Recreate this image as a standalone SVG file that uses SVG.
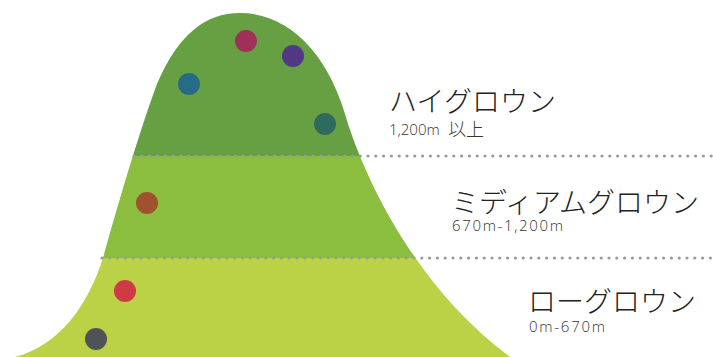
<svg xmlns="http://www.w3.org/2000/svg" width="713" height="357" viewBox="0 0 713 357">
<style>
.big{font-family:"Noto Sans CJK JP","Noto Sans",sans-serif;font-size:28px;font-weight:300;fill:#222}
.small{font-family:"Open Sans","Noto Sans","Noto Sans CJK JP",sans-serif;font-size:15px;font-weight:300;fill:#333}
.cjk{font-family:"Noto Sans CJK JP",sans-serif;font-size:18px;font-weight:300;fill:#333}
.dots{stroke:#9a9a9a;stroke-width:3.2;stroke-linecap:round;stroke-dasharray:0 7.8;fill:none}
</style>
<defs>
<clipPath id="mt">
<path d="M 15 357 C 60 345 88 305 103 258 C 115 215 138 135 157 84 C 178 35 205 13 240 13 C 290 13 330 55 348 124 C 370 190 420 290 510 357 Z"/>
</clipPath>
</defs>
<g id="mountain" clip-path="url(#mt)">
<rect x="0" y="0" width="713" height="156" fill="#66a042"/>
<rect x="0" y="156" width="713" height="102" fill="#8bbd3e"/>
<rect x="0" y="258" width="713" height="99" fill="#bbd246"/>
</g>
<g id="connectors">
<line class="dots" x1="134" y1="156" x2="713" y2="156"/>
<line class="dots" x1="102" y1="258" x2="713" y2="258"/>
</g>
<g id="dots">
<circle cx="246" cy="41" r="11" fill="#9e3059"/>
<circle cx="293" cy="56" r="11" fill="#513883"/>
<circle cx="189" cy="84" r="11" fill="#276b85"/>
<circle cx="325" cy="124" r="11" fill="#2f6a5e"/>
<circle cx="147" cy="203" r="11" fill="#a0522f"/>
<circle cx="125" cy="291" r="11" fill="#cf3a47"/>
<circle cx="96" cy="339" r="11" fill="#4f5358"/>
</g>
<g id="high">
<text class="big" x="389" y="112">ハイグロウン</text>
<text class="small" x="389" y="135">1,200m</text>
<text class="cjk" x="448" y="136">以上</text>
</g>
<g id="medium">
<text class="big" x="451" y="213">ミディアムグロウン</text>
<text class="small" x="452" y="231" textLength="111">670m-1,200m</text>
</g>
<g id="low">
<text class="big" x="528" y="312">ローグロウン</text>
<text class="small" x="529" y="332" textLength="76">0m-670m</text>
</g>
</svg>
